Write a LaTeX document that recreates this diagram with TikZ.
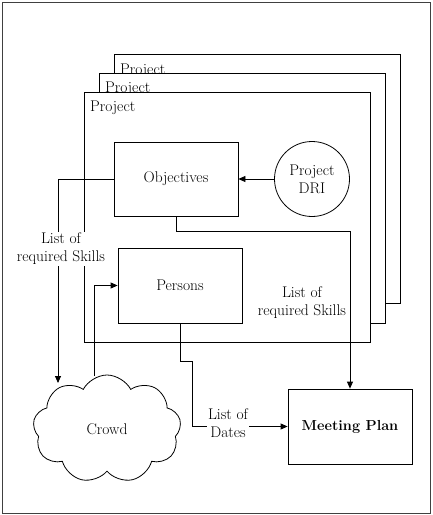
\documentclass[tikz,border=0pt]{standalone}
\usetikzlibrary{
  arrows.meta,
  positioning,
  shapes.symbols,
  calc
}

\begin{document}
\begin{tikzpicture}[
  x=1pt, y=-1pt,
  font=\fontsize{15.5}{18}\selectfont,
  frame/.style={
    draw, line width=0.8pt, fill=white
  },
  box/.style={
    rectangle, draw, line width=0.8pt,
    minimum width=124pt, minimum height=75pt,
    align=center
  },
  lbl/.style={
    fill=white, inner sep=1pt, align=center
  },
  line/.style={
    line width=0.8pt
  },
  arr/.style={
    -{Triangle[length=7pt,width=6pt]}, line width=0.8pt
  }
]
  \useasboundingbox (0,0) rectangle (432,515);
  \draw[line, black!75] (2,2) rectangle (430,513);

  % stacked project frames
  \draw[frame] (114,54) rectangle (400,303);
  \node[anchor=base west, inner sep=0pt] (projC) at (120,74) {Project};
  \draw[frame] (99,73) rectangle (385,323);
  \node[anchor=base west, inner sep=0pt] (projB) at (105,92) {Project};
  \draw[frame] (84,92) rectangle (370,342);
  \node[anchor=base west, inner sep=0pt] (projA) at (90,111) {Project};

  \node[box, minimum height=74pt] (obj) at (176,179) {Objectives};
  \node[circle, draw, line width=0.8pt, minimum size=75pt, align=center,
    inner sep=0pt] (dri) at (312,179) {Project\\DRI};
  \node[box] (pers) at (180,285.5) {Persons};
  \node[box, font=\fontsize{14.5}{18}\selectfont\bfseries] (plan) at (350,426.5)
    {Meeting Plan};
  \node[cloud, draw, line width=0.8pt, cloud puffs=9, cloud puff arc=125,
    aspect=1.4, minimum width=148pt, minimum height=108pt] (crowd)
    at (107,429) {Crowd};

  \coordinate (skillin) at (58,383);
  \coordinate (crowdout) at (94,376);

  \draw[arr] (dri) -- (obj);
  \draw[arr] (obj.west) -| (skillin);
  \draw[arr] (obj.south) -- ++(0,15) -| (plan.north);
  \draw[arr] (crowdout) |- (pers.west);
  \draw[arr] (pers.south) |- ++(12,38) |- (plan.west);

  % labels on the connectors
  \node[lbl] (skillsL) at (61,249) {List of\\required Skills};
  \node[lbl] (skillsR) at (302,303) {List of\\required Skills};
  \node[lbl] (dates) at (228,423) {List of\\Dates};
\end{tikzpicture}
\end{document}
